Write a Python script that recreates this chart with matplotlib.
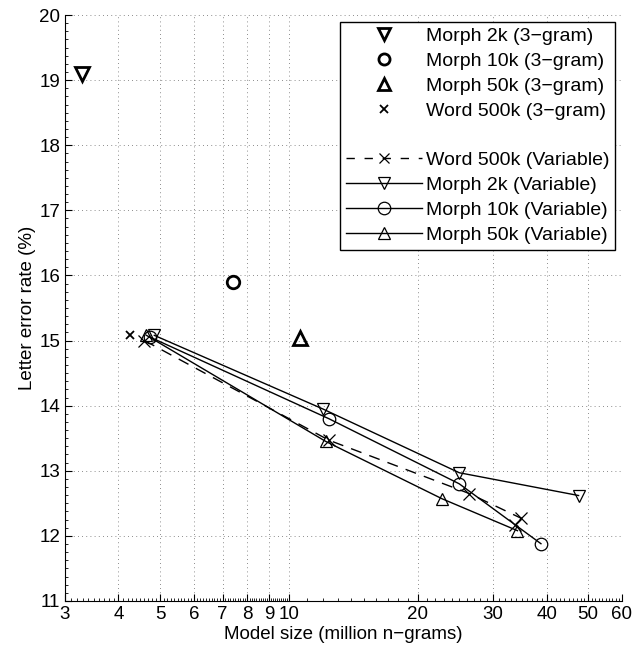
import numpy as np
import matplotlib.pyplot as plt
from matplotlib.lines import Line2D
from matplotlib.ticker import FixedLocator, NullFormatter, MultipleLocator

plt.rcParams['font.family'] = ['Liberation Sans', 'DejaVu Sans']

# 3-gram single points (model size in million n-grams, letter error rate %)
m2k_3g = (3.29, 19.1)
m10k_3g = (7.4, 15.9)
m50k_3g = (10.6, 15.04)
w500k_3g = (4.26, 15.08)

# variable-length models
word_var_x = [4.6, 12.4, 26.4, 34.9, 33.8]
word_var_y = [15.0, 13.47, 12.65, 12.27, 12.16]
m2k_var_x = [4.85, 12.0, 25.0, 47.5]
m2k_var_y = [15.08, 13.95, 12.97, 12.62]
m10k_var_x = [4.75, 12.4, 25.0, 38.8]
m10k_var_y = [15.05, 13.8, 12.8, 11.88]
m50k_var_x = [4.65, 12.2, 22.8, 34.2]
m50k_var_y = [15.08, 13.45, 12.57, 12.08]

xticks = [3, 4, 5, 6, 7, 8, 9, 10, 20, 30, 40, 50, 60]

fig = plt.figure(figsize=(6.36, 6.56), dpi=100)
ax = fig.add_axes([65/636, 55/656, 557/636, 586/656])

k = dict(color='black', linestyle='none', markerfacecolor='none')
ax.plot(*m2k_3g, marker='v', markersize=10, markeredgewidth=2, **k)
ax.plot(*m10k_3g, marker='o', markersize=9, markeredgewidth=2, **k)
ax.plot(*m50k_3g, marker='^', markersize=10, markeredgewidth=2, **k)
ax.plot(*w500k_3g, marker='x', markersize=6, markeredgewidth=1.3, **k)

v = dict(color='black', linewidth=1, markerfacecolor='none', markersize=9, markeredgewidth=0.9)
ax.plot(word_var_x, word_var_y, linestyle=(0, (8, 6)), marker='x',
        **{**v, 'markersize': 8})
ax.plot(m2k_var_x, m2k_var_y, linestyle='-', marker='v', **v)
ax.plot(m10k_var_x, m10k_var_y, linestyle='-', marker='o', **v)
ax.plot(m50k_var_x, m50k_var_y, linestyle='-', marker='^', **v)

ax.set_xscale('log')
ax.set_xlim(3, 60)
ax.set_ylim(11, 20)
ax.xaxis.set_major_locator(FixedLocator(xticks))
ax.set_xticklabels([str(t) for t in xticks])
ax.xaxis.set_minor_locator(FixedLocator(list(np.arange(3, 10, 0.1)) + list(np.arange(10, 60, 1))))
ax.xaxis.set_minor_formatter(NullFormatter())
ax.yaxis.set_major_locator(MultipleLocator(1))
ax.yaxis.set_minor_locator(MultipleLocator(0.125))

ax.grid(True, which='major', linestyle=(0, (1, 4)), color='black', linewidth=0.6, alpha=0.6)
ax.tick_params(which='both', direction='in', labelsize=13.5, top=False, right=False)
ax.tick_params(which='major', length=5)
ax.tick_params(which='minor', length=2.5)
ax.spines['top'].set_visible(False)
ax.spines['right'].set_visible(False)

ax.set_xlabel('Model size (million n\u2212grams)', fontsize=13.5, labelpad=2)
ax.set_ylabel('Letter error rate (%)', fontsize=13.5, labelpad=2)

handles = [
    Line2D([], [], marker='v', markersize=9, markeredgewidth=2, **k),
    Line2D([], [], marker='o', markersize=8, markeredgewidth=2, **k),
    Line2D([], [], marker='^', markersize=9, markeredgewidth=2, **k),
    Line2D([], [], marker='x', markersize=6, markeredgewidth=1.3, **k),
    Line2D([], [], linestyle='none'),
    Line2D([], [], linestyle=(0, (6, 7)), marker='x', **{**v, 'markersize': 7}),
    Line2D([], [], linestyle='-', marker='v', **v),
    Line2D([], [], linestyle='-', marker='o', **v),
    Line2D([], [], linestyle='-', marker='^', **v),
]
labels = ['Morph 2k (3\u2212gram)', 'Morph 10k (3\u2212gram)', 'Morph 50k (3\u2212gram)',
          'Word 500k (3\u2212gram)', ' ', 'Word 500k (Variable)', 'Morph 2k (Variable)',
          'Morph 10k (Variable)', 'Morph 50k (Variable)']
leg = ax.legend(handles, labels, loc='upper right', bbox_to_anchor=(0.995, 0.995),
                fontsize=14, frameon=True, fancybox=False, edgecolor='black',
                framealpha=1, handlelength=3.9, handletextpad=0.2,
                labelspacing=0.37, borderpad=0.3, borderaxespad=0.2)
leg.get_frame().set_linewidth(1)

fig.savefig('out.png', dpi=100)
